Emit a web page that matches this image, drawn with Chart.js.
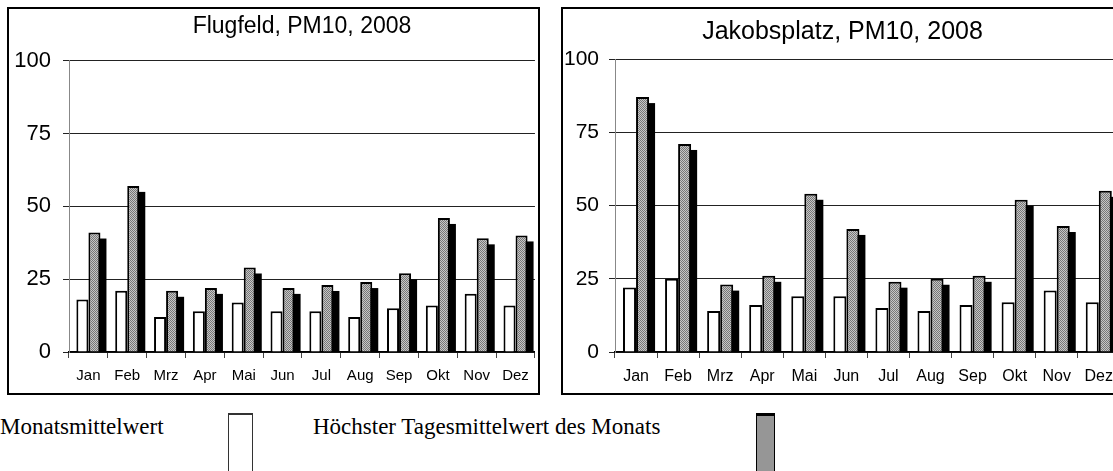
<!DOCTYPE html>
<html>
<head>
<meta charset="utf-8">
<script src="https://cdn.jsdelivr.net/npm/chart.js@4.4.1/dist/chart.umd.min.js"></script>
<style>
html,body{margin:0;padding:0;width:1113px;height:471px;overflow:hidden;background:#fff}
.box{position:absolute;top:7px;height:388px;border:2px solid #000;box-sizing:border-box;background:#fff}
#boxA{left:7px;width:533px}
#boxB{left:561px;width:563px}
.leg{position:absolute;top:414px;font-family:"Liberation Serif","Times New Roman",serif;font-size:23px;line-height:26px;color:#000;white-space:nowrap}
.sw{position:absolute;top:413px;height:70px;box-sizing:border-box;border:1px solid #333;border-top:2px solid #333}
</style>
</head>
<body>
<div class="box" id="boxA"><canvas id="flug"></canvas></div>
<div class="box" id="boxB"><canvas id="jakob"></canvas></div>

<div class="leg" style="left:0px">Monatsmittelwert</div>
<div class="sw" style="left:228px;width:25px;background:#fff"></div>
<div class="leg" style="left:313px">Höchster Tagesmittelwert des Monats</div>
<div class="sw" style="left:756px;width:19px;background:#969696;border-color:#000;border-top:3px solid #000"></div>

<script>
const months = ['Jan','Feb','Mrz','Apr','Mai','Jun','Jul','Aug','Sep','Okt','Nov','Dez'];
const yTicks = [0, 25, 50, 75, 100];

// Flugfeld
const flugMittel = [18, 21, 12, 14, 17, 14, 14, 12, 15, 16, 20, 16];
const flugMax    = [41, 57, 21, 22, 29, 22, 23, 24, 27, 46, 39, 40];

// Jakobsplatz
const jakobMittel = [22, 25, 14, 16, 19, 19, 15, 14, 16, 17, 21, 17];
const jakobMax    = [87, 71, 23, 26, 54, 42, 24, 25, 26, 52, 43, 55];

const FONT = '"Liberation Sans", Arial, sans-serif';

function stipple(){
  const c = document.createElement('canvas');
  c.width = 2; c.height = 2;
  const g = c.getContext('2d');
  g.fillStyle = '#c6c6c6'; g.fillRect(0,0,2,2);
  g.fillStyle = '#777'; g.fillRect(0,0,1,1); g.fillRect(1,1,1,1);
  return g.createPattern(c, 'repeat');
}

// black offset block behind the grey bars (3D look of the original)
const shadow = {
  id: 'shadow',
  beforeDatasetDraw(chart, args){
    if (args.index !== 1) return;
    const ctx = chart.ctx, a = chart.chartArea;
    ctx.save();
    ctx.beginPath(); ctx.rect(a.left, a.top, a.right - a.left, a.bottom - a.top); ctx.clip();
    ctx.fillStyle = '#000';
    args.meta.data.forEach(b => {
      const p = b.getProps(['x','y','base','width'], true);
      ctx.fillRect(p.x - p.width/2 + 6, p.y + 6, p.width, p.base - p.y - 6);
    });
    ctx.restore();
  }
};

function makeChart(id, title, mittel, max, o){
  new Chart(document.getElementById(id), {
    type: 'bar',
    data: {
      labels: months,
      datasets: [
        {label: 'Monatsmittelwert', data: mittel, backgroundColor: '#fff', borderColor: '#000', borderWidth: 2,
         categoryPercentage: 0.62, barPercentage: 1.0},
        {label: 'Höchster Tagesmittelwert des Monats', data: max, backgroundColor: stipple(), borderColor: '#000', borderWidth: 2,
         categoryPercentage: 0.62, barPercentage: 1.0}
      ]
    },
    options: {
      responsive: true, maintainAspectRatio: false, animation: false,
      layout: {padding: {left: 0, right: 0, top: 0, bottom: 0}},
      plugins: {
        legend: {display: false}, tooltip: {enabled: false},
        title: {display: true, text: title, color: '#000', fullSize: o.fullTitle,
          font: {family: FONT, size: o.titleSize, weight: 'normal', lineHeight: 1.2},
          padding: {top: o.titleTop, bottom: o.titleBottom}}
      },
      scales: {
        x: {
          grid: {offset: true, drawOnChartArea: false, tickLength: 6, color: '#444', lineWidth: 1},
          border: {color: '#000', width: 1.5},
          ticks: {color: '#000', font: {family: FONT, size: o.xSize}, padding: 9, maxRotation: 0, autoSkip: false},
          afterFit(s){ s.height = 41; }
        },
        y: {
          min: 0, max: 100,
          afterBuildTicks(s){ s.ticks = yTicks.map(v => ({value: v})); },
          grid: {color: '#222', lineWidth: 1, tickLength: 6, drawTicks: true},
          border: {color: '#888', width: 1},
          ticks: {color: '#000', font: {family: FONT, size: o.ySize}, padding: o.yPad},
          afterFit(s){ s.width = o.yWidth; }
        }
      }
    },
    plugins: [shadow]
  });
}

makeChart('flug', 'Flugfeld, PM10, 2008', flugMittel, flugMax,
  {fullTitle: false, titleSize: 23, titleTop: 4, titleBottom: 20, xSize: 15, ySize: 22, yPad: 12, yWidth: 60});
makeChart('jakob', 'Jakobsplatz, PM10, 2008', jakobMittel, jakobMax,
  {fullTitle: true, titleSize: 25, titleTop: 8, titleBottom: 12, xSize: 16, ySize: 21, yPad: 10, yWidth: 52});
</script>
</body>
</html>
